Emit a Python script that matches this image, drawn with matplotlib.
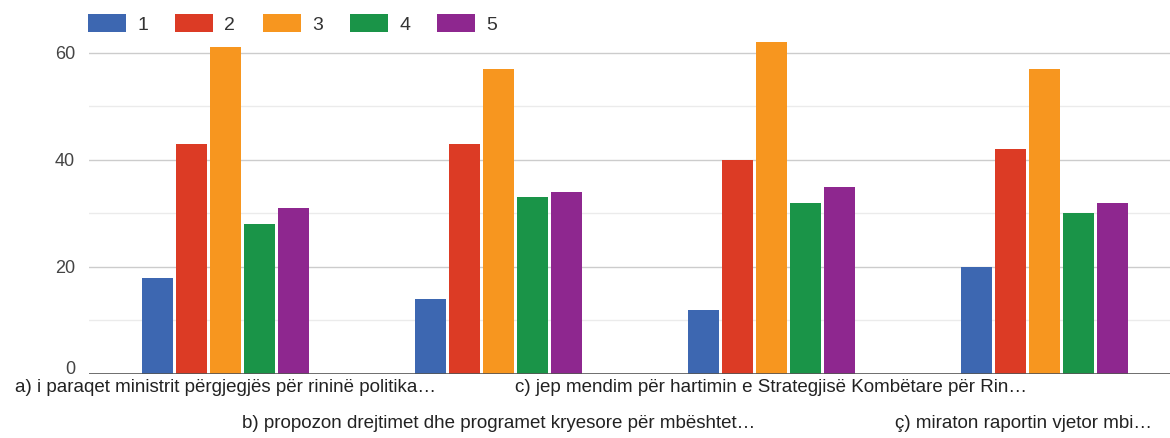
import numpy as np
import matplotlib.pyplot as plt
from matplotlib.transforms import ScaledTranslation

plt.rcParams['font.family'] = ['Liberation Sans', 'DejaVu Sans']

categories = [
    'a) i paraqet ministrit përgjegjës për rininë politika…',
    'b) propozon drejtimet dhe programet kryesore për mbështet…',
    'c) jep mendim për hartimin e Strategjisë Kombëtare për Rin…',
    'ç) miraton raportin vjetor mbi…',
]
series_names = ['1', '2', '3', '4', '5']
v1 = [18, 14, 12, 20]
v2 = [43, 43, 40, 42]
v3 = [61, 57, 62, 57]
v4 = [28, 33, 32, 30]
v5 = [31, 34, 35, 32]
colors = ['#3d67b1', '#dc3b25', '#f7961f', '#1a9448', '#8e278f']

W, H = 1170, 438
fig = plt.figure(figsize=(W / 100, H / 100), dpi=100)
ax = fig.add_axes([89 / W, 1 - 374 / H, 1 - 89 / W, (374 - 26) / H])

x = np.arange(len(categories))
pitch = 0.1245
width = 0.116
for i, (vals, name, c) in enumerate(zip([v1, v2, v3, v4, v5], series_names, colors)):
    ax.bar(x + (i - 2) * pitch, vals, width, color=c, label=name, zorder=3)

ax.set_xlim(-0.5, 3.46)
ax.set_ylim(0, 65)

# grid lines
for g in [10, 30, 50]:
    ax.axhline(g, color='#ebebeb', lw=1, zorder=1)
for g in [20, 40, 60]:
    ax.axhline(g, color='#cccccc', lw=1, zorder=1)
ax.axhline(0, color='#555555', lw=1.2, zorder=4)

for s in ax.spines.values():
    s.set_visible(False)
ax.set_yticks([0, 20, 40, 60])
ax.tick_params(axis='y', length=0, labelsize=13, labelcolor='#444444', pad=10)
ax.set_xticks([])
# the "0" label sits a little above the baseline
zero_lab = ax.get_yticklabels()[0]
zero_lab.set_transform(zero_lab.get_transform() + ScaledTranslation(0, 7 / 100, fig.dpi_scale_trans))

# category labels in two staggered rows
labels = []
for i, lab in enumerate(categories):
    off = 14 if i % 2 == 0 else 50
    t = ax.annotate(lab, xy=(x[i], 0), xycoords=('data', 'axes fraction'),
                    xytext=(0, -off), textcoords='offset pixels',
                    ha='center', va='center', fontsize=13.5, color='#222222')
    labels.append((t, off))

# keep labels inside the figure, like the original does
fig.canvas.draw()
r = fig.canvas.get_renderer()
for t, off in labels:
    bb = t.get_window_extent(r)
    if bb.x1 > W - 18:
        t.xyann = (-(bb.x1 - (W - 18)), -off)

fig.legend(loc='upper left', bbox_to_anchor=(88 / W, 1 - 14 / H), ncol=5,
           frameon=False, fontsize=14, handlelength=1.96, handleheight=1.03,
           handletextpad=0.57, columnspacing=1.4, borderpad=0, borderaxespad=0,
           labelcolor='#333333')

fig.savefig('out.png', dpi=100)
